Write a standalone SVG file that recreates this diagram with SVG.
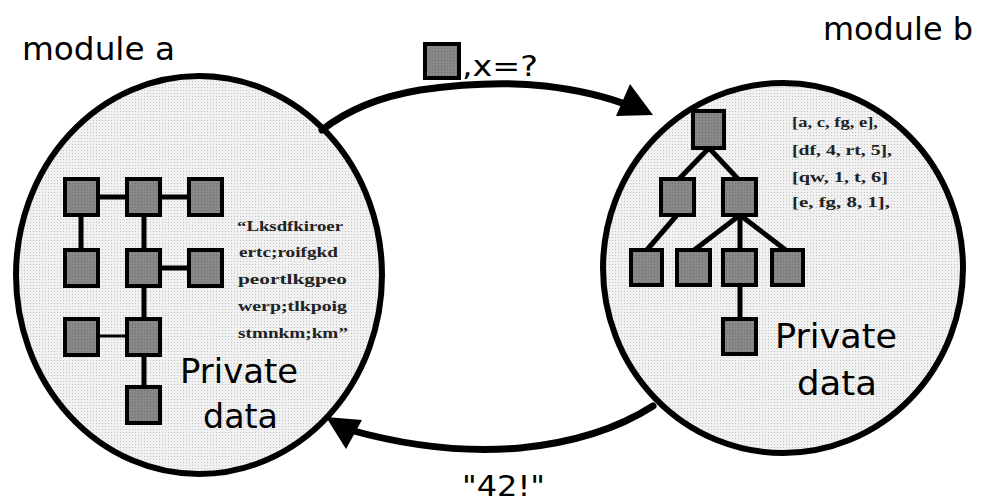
<svg xmlns="http://www.w3.org/2000/svg" width="985" height="504" viewBox="0 0 985 504">
<defs>
<pattern id="dots" width="3" height="3" patternUnits="userSpaceOnUse">
<rect width="3" height="3" fill="#f1f1f1"/>
<rect width="1" height="1" fill="#c4c4c4"/>
</pattern>
<pattern id="gdots" width="3" height="3" patternUnits="userSpaceOnUse">
<rect width="3" height="3" fill="#888"/>
<rect width="1" height="1" fill="#6c6c6c"/>
</pattern>
</defs>
<style>
.mod{fill:url(#dots);stroke:#000;stroke-width:6}
.box{fill:url(#gdots);stroke:#000;stroke-width:4}
.edge{stroke:#000;stroke-width:5;fill:none}
.thin{stroke:#000;stroke-width:3;fill:none}
.arc{stroke:#000;stroke-width:7;fill:none;stroke-linecap:round}
.head{fill:#000}
.title{font-family:"DejaVu Sans",sans-serif;font-size:32px;fill:#000}
.priv{font-family:"DejaVu Sans",sans-serif;font-size:33px;fill:#000}
.ser{font-family:"Liberation Serif",serif;font-size:15px;font-weight:bold;fill:#222}
.msg{font-family:"DejaVu Sans",sans-serif;font-size:29px;fill:#000}
</style>
<rect width="985" height="504" fill="#fff"/>

<g id="module-a">
<ellipse class="mod" cx="199" cy="275" rx="183" ry="199"/>
<text class="title" x="22" y="60" textLength="153" lengthAdjust="spacingAndGlyphs">module a</text>
</g>
<g id="module-b">
<ellipse class="mod" cx="783" cy="268" rx="180" ry="185"/>
<text class="title" x="823" y="40" textLength="150" lengthAdjust="spacingAndGlyphs">module b</text>
</g>

<g id="connectors">
<path class="arc" d="M322,130 Q360,100 420,90 Q490,80 545,86 Q595,92 630,106"/>
<polygon class="head" points="653,115 630,84 616,116"/>
<path class="arc" d="M653,406 Q600,440 520,448 Q440,455 350,430"/>
<polygon class="head" points="326,417 362,420 346,449"/>
<line class="edge" x1="81" y1="197" x2="206" y2="197"/>
<line class="edge" x1="81" y1="197" x2="81" y2="268"/>
<line class="edge" x1="144" y1="197" x2="144" y2="405"/>
<line class="edge" x1="144" y1="268" x2="206" y2="268"/>
<line class="thin" x1="81" y1="336" x2="144" y2="336"/>
<line class="edge" x1="709" y1="148" x2="678" y2="180"/>
<line class="edge" x1="709" y1="148" x2="739" y2="180"/>
<line class="edge" x1="677" y1="215" x2="646" y2="251"/>
<line class="edge" x1="740" y1="215" x2="693" y2="251"/>
<line class="edge" x1="740" y1="215" x2="740" y2="320"/>
<line class="edge" x1="740" y1="215" x2="787" y2="251"/>
</g>

<g id="a-nodes">
<rect id="a1" class="box" x="65" y="179" width="33" height="36"/>
<rect id="a2" class="box" x="127" y="179" width="33" height="36"/>
<rect id="a3" class="box" x="189" y="179" width="33" height="36"/>
<rect id="a4" class="box" x="65" y="250" width="33" height="36"/>
<rect id="a5" class="box" x="127" y="250" width="33" height="36"/>
<rect id="a6" class="box" x="189" y="250" width="33" height="36"/>
<rect id="a7" class="box" x="65" y="319" width="33" height="36"/>
<rect id="a8" class="box" x="127" y="319" width="33" height="36"/>
<rect id="a9" class="box" x="127" y="387" width="33" height="36"/>
</g>
<g id="b-nodes">
<rect id="b1" class="box" x="693" y="111" width="31" height="37"/>
<rect id="b2" class="box" x="661" y="179" width="33" height="36"/>
<rect id="b3" class="box" x="723" y="179" width="33" height="36"/>
<rect id="b4" class="box" x="631" y="250" width="31" height="35"/>
<rect id="b5" class="box" x="677" y="250" width="33" height="35"/>
<rect id="b6" class="box" x="723" y="250" width="33" height="35"/>
<rect id="b7" class="box" x="772" y="250" width="31" height="35"/>
<rect id="b8" class="box" x="723" y="319" width="33" height="35"/>
</g>

<g id="a-text">
<text class="ser" x="237" y="231" textLength="106" lengthAdjust="spacingAndGlyphs">“Lksdfkiroer</text>
<text class="ser" x="239" y="257" textLength="99" lengthAdjust="spacingAndGlyphs">ertc;roifgkd</text>
<text class="ser" x="238" y="284" textLength="109" lengthAdjust="spacingAndGlyphs">peortlkgpeo</text>
<text class="ser" x="238" y="311" textLength="109" lengthAdjust="spacingAndGlyphs">werp;tlkpoig</text>
<text class="ser" x="238" y="338" textLength="110" lengthAdjust="spacingAndGlyphs">stmnkm;km”</text>
<text class="priv" x="180" y="383" textLength="118" lengthAdjust="spacingAndGlyphs">Private</text>
<text class="priv" x="203" y="428" textLength="75" lengthAdjust="spacingAndGlyphs">data</text>
</g>
<g id="b-text">
<text class="ser" x="792" y="127" font-size="14" textLength="86" lengthAdjust="spacingAndGlyphs">[a, c, fg, e],</text>
<text class="ser" x="792" y="155" font-size="14" textLength="100" lengthAdjust="spacingAndGlyphs">[df, 4, rt, 5],</text>
<text class="ser" x="792" y="182" font-size="14" textLength="96" lengthAdjust="spacingAndGlyphs">[qw, 1, t, 6]</text>
<text class="ser" x="792" y="207" font-size="14" textLength="98" lengthAdjust="spacingAndGlyphs">[e, fg, 8, 1],</text>
<text class="priv" x="775" y="348" textLength="122" lengthAdjust="spacingAndGlyphs">Private</text>
<text class="priv" x="797" y="395" textLength="80" lengthAdjust="spacingAndGlyphs">data</text>
</g>

<g id="message-out">
<rect class="box" x="425" y="44" width="34" height="34"/>
<text class="msg" x="462" y="76" textLength="76" lengthAdjust="spacingAndGlyphs">,x=?</text>
</g>
<g id="message-back">
<text class="msg" x="462" y="496" textLength="83" lengthAdjust="spacingAndGlyphs">"42!"</text>
</g>
</svg>
